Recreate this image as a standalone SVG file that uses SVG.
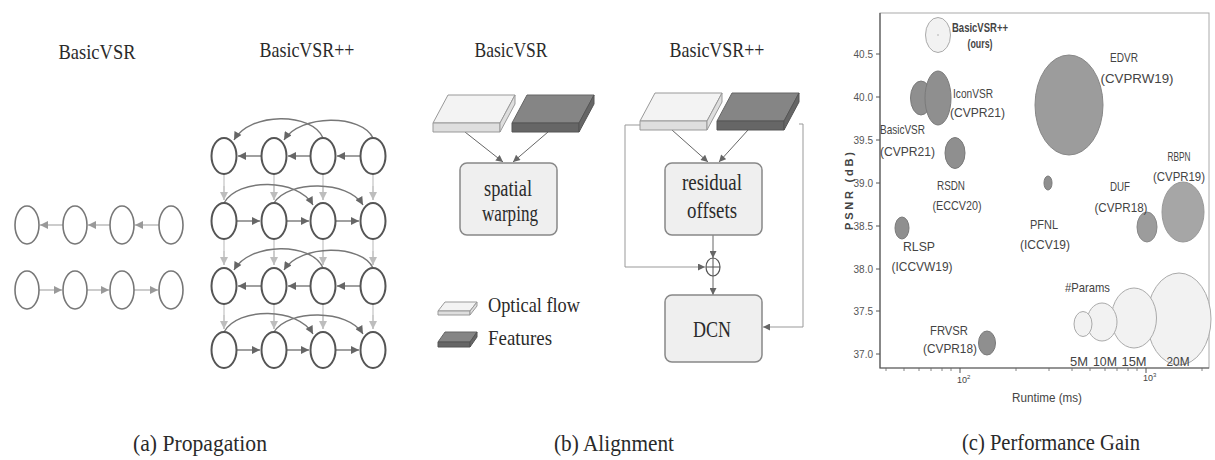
<svg xmlns="http://www.w3.org/2000/svg" xmlns:xlink="http://www.w3.org/1999/xlink" width="1215" height="460" viewBox="0 0 1215 460">
<style>
.ser{font-family:"Liberation Serif","Times New Roman",serif;fill:#2a2a2a;}
.t22{font-size:22px;}
.t24{font-size:24px;}
.t26{font-size:24px;}
.san{font-family:"Liberation Sans",Arial,sans-serif;fill:#444;}
.lab{font-size:13px;}
.tick{font-size:10px;fill:#555;}
.nd{fill:#fff;stroke:#555;stroke-width:2;}
.ndl{fill:#fff;stroke:#777;stroke-width:1.6;}
.ed{fill:none;stroke:#777;stroke-width:1.4;}
.edl{fill:none;stroke:#aaa;stroke-width:1.2;}
.edv{fill:none;stroke:#c4c4c4;stroke-width:1.2;}
.bx{fill:#efefef;stroke:#888;stroke-width:1.5;}
.ar{fill:none;stroke:#666;stroke-width:1;}
.lp{fill:none;stroke:#999;stroke-width:1;}
.ltop{fill:#f3f3f3;stroke:#999;stroke-width:1;}
.lfr{fill:#dedede;stroke:#999;stroke-width:1;}
.dtop{fill:#858585;stroke:#666;stroke-width:1;}
.dfr{fill:#666;stroke:#555;stroke-width:1;}
.bub{fill:#8f8f8f;stroke:#7a7a7a;stroke-width:1;}
.bubm{fill:#9c9c9c;stroke:#888;stroke-width:1;}
.bubl{fill:#f2f2f2;stroke:#aaa;stroke-width:1;}
</style>
<defs>
<marker id="ad" viewBox="0 0 10 10" refX="10" refY="5" markerWidth="9" markerHeight="8" markerUnits="userSpaceOnUse" orient="auto"><path d="M0,0 L10,5 L0,10 z" fill="#666"/></marker>
<marker id="al" viewBox="0 0 10 10" refX="10" refY="5" markerWidth="9" markerHeight="8" markerUnits="userSpaceOnUse" orient="auto"><path d="M0,0 L10,5 L0,10 z" fill="#999"/></marker>
<marker id="av" viewBox="0 0 10 10" refX="10" refY="5" markerWidth="9" markerHeight="8" markerUnits="userSpaceOnUse" orient="auto"><path d="M0,0 L10,5 L0,10 z" fill="#bdbdbd"/></marker>
<marker id="as" viewBox="0 0 10 10" refX="10" refY="5" markerWidth="8" markerHeight="7" markerUnits="userSpaceOnUse" orient="auto"><path d="M0,0 L10,5 L0,10 z" fill="#666"/></marker>
<g id="slabL"><polygon class="ltop" points="15,0 82,0 67,28 0,28"/><polygon class="lfr" points="0,28 67,28 67,37 0,37"/><polygon class="lfr" points="67,28 82,0 82,9 67,37"/></g>
<g id="slabD"><polygon class="dtop" points="15,0 82,0 67,28 0,28"/><polygon class="dfr" points="0,28 67,28 67,37 0,37"/><polygon class="dfr" points="67,28 82,0 82,9 67,37"/></g>
</defs>

<rect width="1215" height="460" fill="#fff"/>

<!-- ===== (a) Propagation ===== -->
<text class="ser t22" x="97" y="59" text-anchor="middle" textLength="77" lengthAdjust="spacingAndGlyphs">BasicVSR</text>
<text class="ser t22" x="307" y="57" text-anchor="middle" textLength="95" lengthAdjust="spacingAndGlyphs">BasicVSR++</text>

<g id="a-connectors">
  <path class="edl" d="M159,225 H135" marker-end="url(#al)"/>
  <path class="edl" d="M110,225 H88" marker-end="url(#al)"/>
  <path class="edl" d="M63,225 H40" marker-end="url(#al)"/>
  <path class="edl" d="M39,290 H62" marker-end="url(#al)"/>
  <path class="edl" d="M87,290 H109" marker-end="url(#al)"/>
  <path class="edl" d="M134,290 H158" marker-end="url(#al)"/>

  <!-- vertical -->
  <path class="edv" d="M224,174 V200 M274,174 V200 M323,174 V200 M373,174 V200" />
  <path class="edv" d="M224,186 V200" marker-end="url(#av)"/>
  <path class="edv" d="M274,186 V200" marker-end="url(#av)"/>
  <path class="edv" d="M323,186 V200" marker-end="url(#av)"/>
  <path class="edv" d="M373,186 V200" marker-end="url(#av)"/>
  <path class="edv" d="M224,239 V265 M274,239 V265 M323,239 V265 M373,239 V265"/>
  <path class="edv" d="M224,251 V265" marker-end="url(#av)"/>
  <path class="edv" d="M274,251 V265" marker-end="url(#av)"/>
  <path class="edv" d="M323,251 V265" marker-end="url(#av)"/>
  <path class="edv" d="M373,251 V265" marker-end="url(#av)"/>
  <path class="edv" d="M224,304 V329 M274,304 V329 M323,304 V329 M373,304 V329"/>
  <path class="edv" d="M224,315 V329" marker-end="url(#av)"/>
  <path class="edv" d="M274,315 V329" marker-end="url(#av)"/>
  <path class="edv" d="M323,315 V329" marker-end="url(#av)"/>
  <path class="edv" d="M373,315 V329" marker-end="url(#av)"/>

  <!-- row 1 backward -->
  <path class="ed" d="M360,156 H337" marker-end="url(#ad)"/>
  <path class="ed" d="M310,156 H288" marker-end="url(#ad)"/>
  <path class="ed" d="M261,156 H238" marker-end="url(#ad)"/>
  <path class="ed" d="M323,138 C312,112 250,112 234,140" marker-end="url(#ad)"/>
  <path class="ed" d="M373,138 C362,114 300,114 284,140" marker-end="url(#ad)"/>
  <!-- row 2 forward -->
  <path class="ed" d="M237,221 H260" marker-end="url(#ad)"/>
  <path class="ed" d="M287,221 H309" marker-end="url(#ad)"/>
  <path class="ed" d="M336,221 H359" marker-end="url(#ad)"/>
  <path class="ed" d="M224,203 C238,178 298,178 313,205" marker-end="url(#ad)"/>
  <path class="ed" d="M274,203 C288,180 348,180 363,205" marker-end="url(#ad)"/>
  <!-- row 3 backward -->
  <path class="ed" d="M360,286 H337" marker-end="url(#ad)"/>
  <path class="ed" d="M310,286 H288" marker-end="url(#ad)"/>
  <path class="ed" d="M261,286 H238" marker-end="url(#ad)"/>
  <path class="ed" d="M323,268 C312,242 250,242 234,270" marker-end="url(#ad)"/>
  <path class="ed" d="M373,268 C362,244 300,244 284,270" marker-end="url(#ad)"/>
  <!-- row 4 forward -->
  <path class="ed" d="M237,350 H260" marker-end="url(#ad)"/>
  <path class="ed" d="M287,350 H309" marker-end="url(#ad)"/>
  <path class="ed" d="M336,350 H359" marker-end="url(#ad)"/>
  <path class="ed" d="M224,332 C238,307 298,307 313,334" marker-end="url(#ad)"/>
  <path class="ed" d="M274,332 C288,309 348,309 363,334" marker-end="url(#ad)"/>
</g>

<g id="a-basic-nodes">
  <g id="a-b-r1c1"><ellipse class="ndl" cx="27" cy="225" rx="12" ry="19"/></g>
  <g id="a-b-r1c2"><ellipse class="ndl" cx="75" cy="225" rx="12" ry="19"/></g>
  <g id="a-b-r1c3"><ellipse class="ndl" cx="122" cy="225" rx="12" ry="19"/></g>
  <g id="a-b-r1c4"><ellipse class="ndl" cx="171" cy="225" rx="12" ry="19"/></g>
  <g id="a-b-r2c1"><ellipse class="ndl" cx="27" cy="290" rx="12" ry="19"/></g>
  <g id="a-b-r2c2"><ellipse class="ndl" cx="75" cy="290" rx="12" ry="19"/></g>
  <g id="a-b-r2c3"><ellipse class="ndl" cx="122" cy="290" rx="12" ry="19"/></g>
  <g id="a-b-r2c4"><ellipse class="ndl" cx="171" cy="290" rx="12" ry="19"/></g>
</g>
<g id="a-pp-nodes">
  <g id="a-p-r1c1"><ellipse class="nd" cx="224" cy="156" rx="12.5" ry="18"/></g>
  <g id="a-p-r1c2"><ellipse class="nd" cx="274" cy="156" rx="12.5" ry="18"/></g>
  <g id="a-p-r1c3"><ellipse class="nd" cx="323" cy="156" rx="12.5" ry="18"/></g>
  <g id="a-p-r1c4"><ellipse class="nd" cx="373" cy="156" rx="12.5" ry="18"/></g>
  <g id="a-p-r2c1"><ellipse class="nd" cx="224" cy="221" rx="12.5" ry="18"/></g>
  <g id="a-p-r2c2"><ellipse class="nd" cx="274" cy="221" rx="12.5" ry="18"/></g>
  <g id="a-p-r2c3"><ellipse class="nd" cx="323" cy="221" rx="12.5" ry="18"/></g>
  <g id="a-p-r2c4"><ellipse class="nd" cx="373" cy="221" rx="12.5" ry="18"/></g>
  <g id="a-p-r3c1"><ellipse class="nd" cx="224" cy="286" rx="12.5" ry="18"/></g>
  <g id="a-p-r3c2"><ellipse class="nd" cx="274" cy="286" rx="12.5" ry="18"/></g>
  <g id="a-p-r3c3"><ellipse class="nd" cx="323" cy="286" rx="12.5" ry="18"/></g>
  <g id="a-p-r3c4"><ellipse class="nd" cx="373" cy="286" rx="12.5" ry="18"/></g>
  <g id="a-p-r4c1"><ellipse class="nd" cx="224" cy="350" rx="12.5" ry="18"/></g>
  <g id="a-p-r4c2"><ellipse class="nd" cx="274" cy="350" rx="12.5" ry="18"/></g>
  <g id="a-p-r4c3"><ellipse class="nd" cx="323" cy="350" rx="12.5" ry="18"/></g>
  <g id="a-p-r4c4"><ellipse class="nd" cx="373" cy="350" rx="12.5" ry="18"/></g>
</g>

<!-- ===== (b) Alignment ===== -->
<text class="ser t22" x="511" y="57" text-anchor="middle" textLength="73" lengthAdjust="spacingAndGlyphs">BasicVSR</text>
<text class="ser t22" x="717" y="57" text-anchor="middle" textLength="95" lengthAdjust="spacingAndGlyphs">BasicVSR++</text>

<g id="b-connectors">
  <path class="ar" d="M465,132 L503,162" marker-end="url(#as)"/>
  <path class="ar" d="M548,132 L513,162" marker-end="url(#as)"/>
  <path class="ar" d="M672,130 L708,162" marker-end="url(#as)"/>
  <path class="ar" d="M748,130 L719,162" marker-end="url(#as)"/>
  <path class="ar" d="M713,235 V258" marker-end="url(#as)"/>
  <path class="ar" d="M713,276 V295" marker-end="url(#as)"/>
  <path class="lp" d="M642,125 H625 V267 H705" marker-end="url(#as)"/>
  <path class="lp" d="M799,124 H803 V327 H763" marker-end="url(#as)"/>
</g>

<g id="b-flow1"><use xlink:href="#slabL" x="433" y="95"/></g>
<g id="b-feat1"><use xlink:href="#slabD" x="512" y="95"/></g>
<g id="b-flow2"><use xlink:href="#slabL" x="640" y="93"/></g>
<g id="b-feat2"><use xlink:href="#slabD" x="717" y="93"/></g>

<g id="b-warp">
  <rect class="bx" x="460" y="163" width="97" height="72" rx="7"/>
  <text class="ser t26" x="508" y="196" text-anchor="middle" textLength="48" lengthAdjust="spacingAndGlyphs">spatial</text>
  <text class="ser t26" x="510" y="221" text-anchor="middle" textLength="56" lengthAdjust="spacingAndGlyphs">warping</text>
</g>
<g id="b-resid">
  <rect class="bx" x="665" y="163" width="97" height="72" rx="7"/>
  <text class="ser t26" x="712" y="190" text-anchor="middle" textLength="60" lengthAdjust="spacingAndGlyphs">residual</text>
  <text class="ser t26" x="712" y="218" text-anchor="middle" textLength="50" lengthAdjust="spacingAndGlyphs">offsets</text>
</g>
<g id="b-plus">
  <ellipse cx="713" cy="267" rx="7" ry="9" fill="#fff" stroke="#555" stroke-width="1.2"/>
  <path d="M706,267 H720 M713,258 V276" stroke="#555" stroke-width="1"/>
</g>
<g id="b-dcn">
  <rect class="bx" x="665" y="295" width="97" height="67" rx="7"/>
  <text class="ser t24" x="712" y="337" text-anchor="middle" textLength="38" lengthAdjust="spacingAndGlyphs">DCN</text>
</g>
<g id="b-legend">
  <polygon class="ltop" points="445,302 477,302 470,311 438,311"/>
  <polygon class="lfr" points="438,311 470,311 470,315 438,315"/>
  <polygon class="lfr" points="470,311 477,302 477,306 470,315"/>
  <text class="ser t22" x="488" y="312" textLength="92" lengthAdjust="spacingAndGlyphs">Optical flow</text>
  <polygon class="dtop" points="445,332 477,332 470,342 438,342"/>
  <polygon class="dfr" points="438,342 470,342 470,347 438,347"/>
  <polygon class="dfr" points="470,342 477,332 477,337 470,347"/>
  <text class="ser t22" x="488" y="345" textLength="64" lengthAdjust="spacingAndGlyphs">Features</text>
</g>

<!-- ===== (c) Performance Gain ===== -->
<g id="c-axes">
  <rect x="880" y="13" width="329" height="355" fill="none" stroke="#aaa" stroke-width="1"/>
  <path d="M880,13 V368 H1209" fill="none" stroke="#555" stroke-width="1.2"/>
  <path d="M876,54 H880 M876,97 H880 M876,140 H880 M876,183 H880 M876,226 H880 M876,269 H880 M876,311 H880 M876,354 H880" stroke="#555" stroke-width="1"/>
  <path d="M960,368 V373 M1146,368 V373" stroke="#555" stroke-width="1"/>
  <path d="M886,368 V371 M904,368 V371 M919,368 V371 M931,368 V371 M942,368 V371 M951,368 V371 M1016,368 V371 M1049,368 V371 M1072,368 V371 M1090,368 V371 M1105,368 V371 M1117,368 V371 M1128,368 V371 M1137,368 V371 M1202,368 V371" stroke="#666" stroke-width="0.8"/>
  <g class="san tick" text-anchor="end">
    <text x="873" y="57.5">40.5</text>
    <text x="873" y="100.5">40.0</text>
    <text x="873" y="143.5">39.5</text>
    <text x="873" y="186.5">39.0</text>
    <text x="873" y="229.5">38.5</text>
    <text x="873" y="272.5">38.0</text>
    <text x="873" y="314.5">37.5</text>
    <text x="873" y="357.5">37.0</text>
  </g>
  <text class="san" x="957" y="383" font-size="9" fill="#555">10<tspan font-size="6" dy="-4">2</tspan></text>
  <text class="san" x="1143" y="381" font-size="9" fill="#555">10<tspan font-size="6" dy="-4">3</tspan></text>
  <text class="san" x="1047" y="402" font-size="12" text-anchor="middle" textLength="70" lengthAdjust="spacingAndGlyphs">Runtime (ms)</text>
  <text class="san" transform="translate(853,191) rotate(-90)" font-size="11" font-weight="bold" text-anchor="middle" textLength="78" lengthAdjust="spacing">PSNR (dB)</text>
</g>

<g id="c-edvr">
  <ellipse class="bubm" cx="1069" cy="105" rx="34" ry="50"/>
  <text class="san lab" x="1124" y="62" text-anchor="middle" textLength="28" lengthAdjust="spacingAndGlyphs">EDVR</text>
  <text class="san lab" x="1137" y="83" text-anchor="middle" textLength="73" lengthAdjust="spacingAndGlyphs">(CVPRW19)</text>
</g>
<g id="c-basicvsrpp">
  <ellipse class="bubl" cx="938" cy="35" rx="12.5" ry="17.5"/>
  <circle cx="938" cy="35" r="0.8" fill="#aaa"/>
  <text class="san lab" x="952" y="32" font-weight="bold" textLength="56" lengthAdjust="spacingAndGlyphs">BasicVSR++</text>
  <text class="san lab" x="980" y="48" font-weight="bold" text-anchor="middle" textLength="25" lengthAdjust="spacingAndGlyphs">(ours)</text>
</g>
<g id="c-basicvsr">
  <ellipse class="bub" cx="921" cy="98" rx="10.5" ry="17"/>
  <text class="san lab" x="880" y="134" textLength="45" lengthAdjust="spacingAndGlyphs">BasicVSR</text>
  <text class="san lab" x="880" y="156" textLength="55" lengthAdjust="spacingAndGlyphs">(CVPR21)</text>
</g>
<g id="c-iconvsr">
  <ellipse class="bub" cx="938" cy="98" rx="13" ry="27"/>
  <text class="san lab" x="953" y="98" textLength="40" lengthAdjust="spacingAndGlyphs">IconVSR</text>
  <text class="san lab" x="950" y="117" textLength="55" lengthAdjust="spacingAndGlyphs">(CVPR21)</text>
</g>
<g id="c-rsdn">
  <ellipse class="bub" cx="955" cy="153" rx="10" ry="15.5"/>
  <text class="san lab" x="951" y="190" text-anchor="middle" textLength="28" lengthAdjust="spacingAndGlyphs">RSDN</text>
  <text class="san lab" x="957" y="210" text-anchor="middle" textLength="49" lengthAdjust="spacingAndGlyphs">(ECCV20)</text>
</g>
<g id="c-rlsp">
  <ellipse class="bub" cx="902" cy="228" rx="7" ry="11"/>
  <text class="san lab" x="919" y="251" text-anchor="middle" textLength="32" lengthAdjust="spacingAndGlyphs">RLSP</text>
  <text class="san lab" x="922" y="271" text-anchor="middle" textLength="61" lengthAdjust="spacingAndGlyphs">(ICCVW19)</text>
</g>
<g id="c-frvsr">
  <ellipse class="bub" cx="987" cy="343" rx="8.5" ry="12"/>
  <text class="san lab" x="949" y="335" text-anchor="middle" textLength="38" lengthAdjust="spacingAndGlyphs">FRVSR</text>
  <text class="san lab" x="950" y="353" text-anchor="middle" textLength="54" lengthAdjust="spacingAndGlyphs">(CVPR18)</text>
</g>
<g id="c-pfnl">
  <ellipse class="bub" cx="1048" cy="183" rx="4" ry="7"/>
  <text class="san lab" x="1044" y="229" text-anchor="middle" textLength="28" lengthAdjust="spacingAndGlyphs">PFNL</text>
  <text class="san lab" x="1045" y="249" text-anchor="middle" textLength="50" lengthAdjust="spacingAndGlyphs">(ICCV19)</text>
</g>
<g id="c-duf">
  <ellipse class="bubm" cx="1147" cy="227" rx="10" ry="15"/>
  <text class="san lab" x="1120" y="191" text-anchor="middle" textLength="20" lengthAdjust="spacingAndGlyphs">DUF</text>
  <text class="san lab" x="1121" y="212" text-anchor="middle" textLength="53" lengthAdjust="spacingAndGlyphs">(CVPR18)</text>
</g>
<g id="c-rbpn">
  <ellipse class="bub" cx="1183" cy="212" rx="21" ry="30" style="fill:#a6a6a6;stroke:#999"/>
  <text class="san lab" x="1179" y="161" text-anchor="middle" textLength="23" lengthAdjust="spacingAndGlyphs">RBPN</text>
  <text class="san lab" x="1179" y="181" text-anchor="middle" textLength="52" lengthAdjust="spacingAndGlyphs">(CVPR19)</text>
</g>
<g id="c-params">
  <ellipse class="bubl" cx="1179" cy="319" rx="32" ry="46"/>
  <ellipse class="bubl" cx="1134" cy="318" rx="22.5" ry="30"/>
  <ellipse class="bubl" cx="1102" cy="322" rx="15" ry="19"/>
  <ellipse class="bubl" cx="1083" cy="324" rx="9" ry="12.5"/>
  <text class="san lab" x="1065" y="292" textLength="45" lengthAdjust="spacingAndGlyphs">#Params</text>
  <text class="san lab" x="1079" y="366" text-anchor="middle" textLength="18" lengthAdjust="spacingAndGlyphs">5M</text>
  <text class="san lab" x="1105" y="366" text-anchor="middle" textLength="24" lengthAdjust="spacingAndGlyphs">10M</text>
  <text class="san lab" x="1134" y="366" text-anchor="middle" textLength="25" lengthAdjust="spacingAndGlyphs">15M</text>
  <text class="san lab" x="1178" y="366" text-anchor="middle" textLength="23" lengthAdjust="spacingAndGlyphs">20M</text>
</g>

<!-- captions -->
<text class="ser t24" x="133" y="451" textLength="134" lengthAdjust="spacingAndGlyphs">(a) Propagation</text>
<text class="ser t24" x="554" y="451" textLength="120" lengthAdjust="spacingAndGlyphs">(b) Alignment</text>
<text class="ser t24" x="962" y="450" textLength="178" lengthAdjust="spacingAndGlyphs">(c) Performance Gain</text>
</svg>
